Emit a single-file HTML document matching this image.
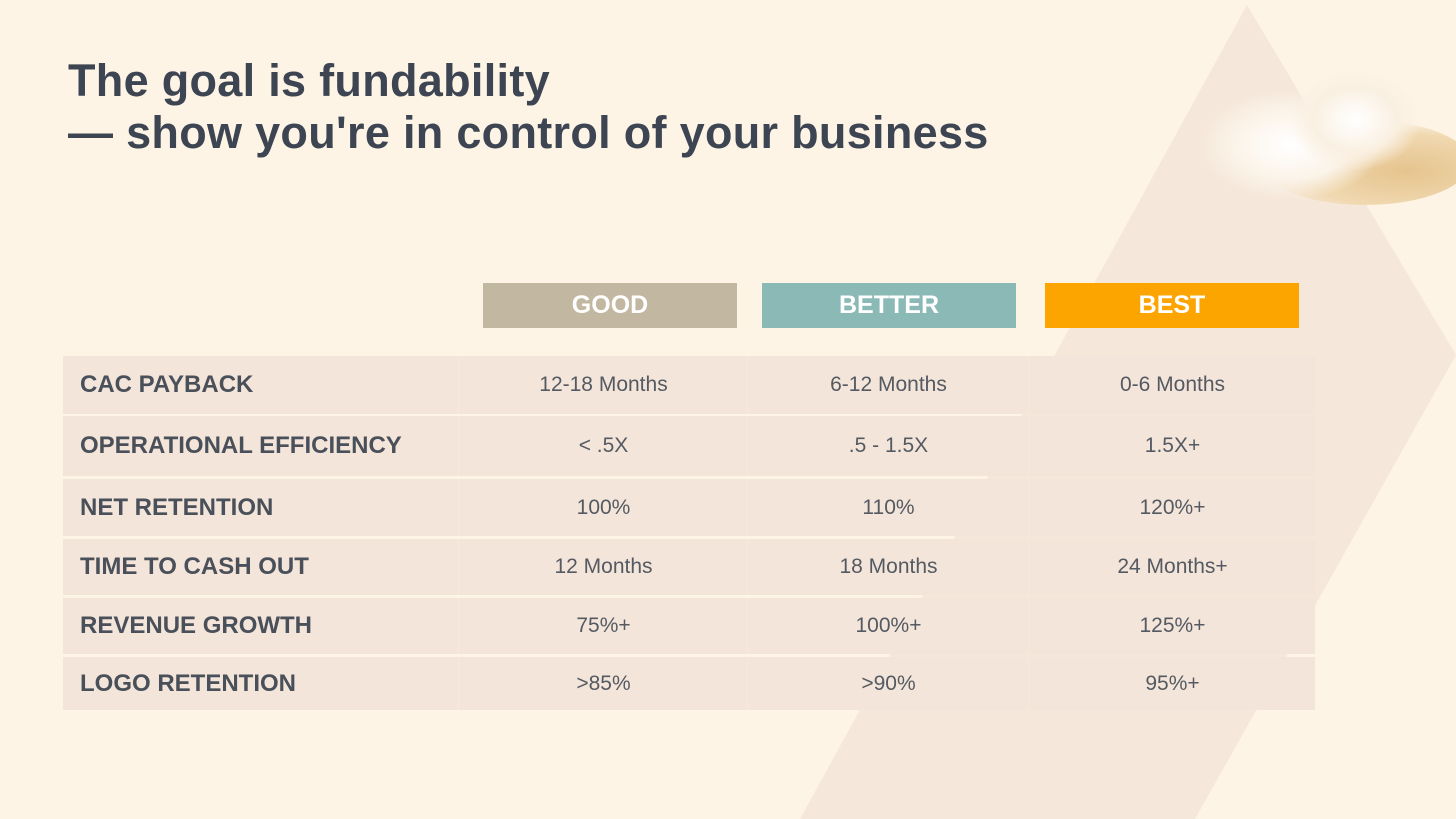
<!DOCTYPE html>
<html><head><meta charset="utf-8"><style>
body{margin:0;width:1456px;height:819px;overflow:hidden;background:#fdf4e6;font-family:"Liberation Sans",sans-serif;position:relative}
.abs{position:absolute}
h1{position:absolute;left:68px;top:55px;margin:0;font-size:45px;line-height:52px;font-weight:bold;color:#3e4552;letter-spacing:0.3px}
.hdr{position:absolute;top:283px;height:45px;line-height:45px;text-align:center;color:#fff;font-weight:bold;font-size:25px}
.row{position:absolute;left:63px;width:1252px;background:#f3e5da}
.cell{position:absolute;top:0;height:100%;display:flex;align-items:center;color:#555a62;font-size:21px}
.lab{left:17px;font-weight:bold;font-size:24px;color:#4a505a}
.v{justify-content:center;border-left:1px solid #f7eadd}
</style></head><body>
<svg class="abs" style="left:0;top:0" width="1456" height="819"><polygon points="1247,5 1456,355 1195,819 800,819" fill="#f5e7da"/></svg>
<div class="abs" style="left:1200px;top:70px;width:256px;height:145px">
<div class="abs" style="left:60px;top:50px;width:210px;height:85px;border-radius:50%;background:radial-gradient(ellipse at 70% 60%,#e6c48e,#f0d8b0 50%,rgba(245,225,195,0) 72%)"></div>
<div class="abs" style="left:0px;top:20px;width:180px;height:110px;border-radius:50%;background:radial-gradient(ellipse at 50% 50%,#fff,#fbf3e8 45%,rgba(253,244,230,0) 72%)"></div>
<div class="abs" style="left:90px;top:0px;width:130px;height:100px;border-radius:50%;background:radial-gradient(ellipse at 50% 50%,#fff,#faf0e2 45%,rgba(253,244,230,0) 72%)"></div>
</div>
<h1>The goal is fundability<br>— show you're in control of your business</h1>
<div class="hdr" style="left:483px;width:254px;background:#c2b8a1">GOOD</div>
<div class="hdr" style="left:762px;width:254px;background:#8bbab6">BETTER</div>
<div class="hdr" style="left:1045px;width:254px;background:#fca400">BEST</div>
<div id="tbl"></div>
<script>
const labels=["CAC PAYBACK","OPERATIONAL EFFICIENCY","NET RETENTION","TIME TO CASH OUT","REVENUE GROWTH","LOGO RETENTION"];
const good=["12-18 Months","< .5X","100%","12 Months","75%+",">85%"];
const better=["6-12 Months",".5 - 1.5X","110%","18 Months","100%+",">90%"];
const best=["0-6 Months","1.5X+","120%+","24 Months+","125%+","95%+"];
const tops=[356,416,479,539,598,657];
const heights=[58,60,57,56,56,53];
const tbl=document.getElementById('tbl');
labels.forEach((l,i)=>{
 const r=document.createElement('div');r.className='row';
 
 
 r.style.top=tops[i]+'px';r.style.height=heights[i]+'px';
 const cells=[[l,'cell lab',17,380],[good[i],'cell v',395,289],[better[i],'cell v',684,281],[best[i],'cell v',965,287]];
 cells.forEach((c,j)=>{const d=document.createElement('div');d.className=c[1];d.textContent=c[0];
 
 
 d.style.left=c[2]+'px';d.style.width=c[3]+'px';r.appendChild(d);});
 tbl.appendChild(r);
});
</script>
</body></html>
